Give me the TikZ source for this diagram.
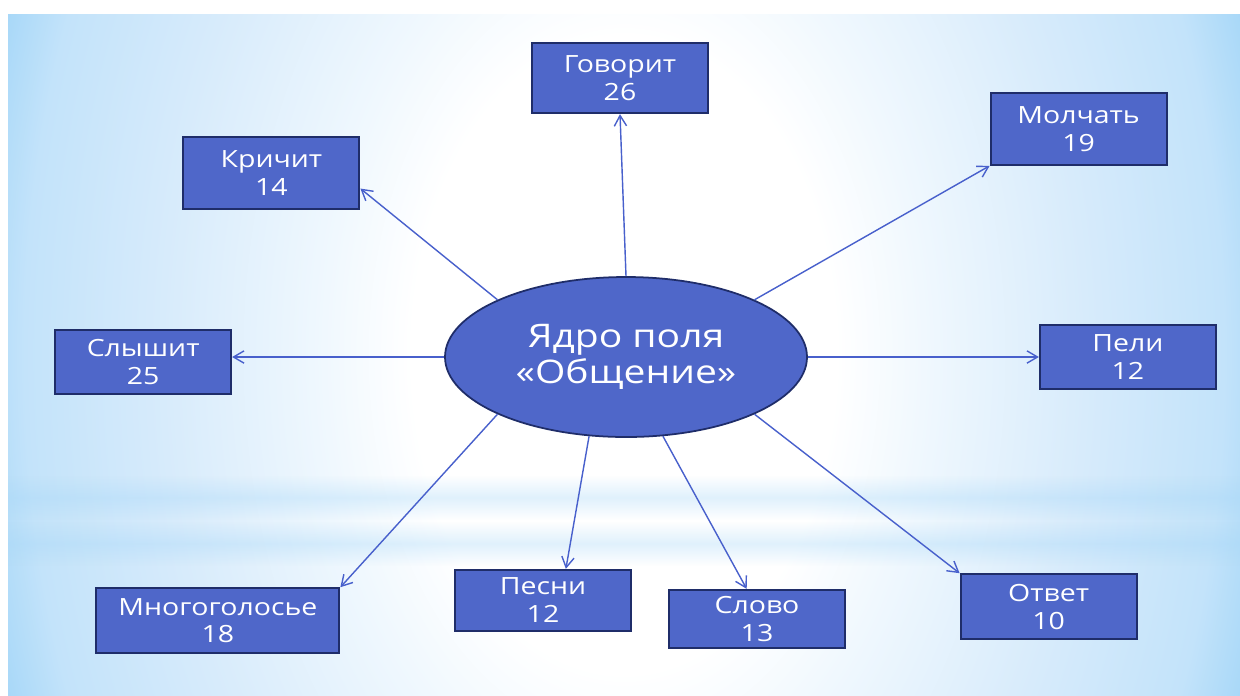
\documentclass[tikz,border=0pt]{standalone}
\usepackage{fontspec}
\setmainfont{Open Sans}[FakeStretch=1.2]
\usepackage{tikz}
\usetikzlibrary{shapes.geometric, arrows.meta, calc, positioning, fadings}
\definecolor{boxblue}{RGB}{79,103,201}
\definecolor{boxline}{RGB}{31,45,105}
\definecolor{linkblue}{RGB}{72,96,204}
\definecolor{skyblue}{RGB}{166,215,248}
\definecolor{skydeep}{RGB}{158,211,247}
\definecolor{skymid}{RGB}{195,227,250}
\definecolor{skysoft}{RGB}{215,235,251}
\definecolor{skypale}{RGB}{240,248,254}
\pgfdeclareradialshading{panelglow}{\pgfpoint{0bp}{0bp}}{color(0bp)=(white); color(120bp)=(white); color(170bp)=(skypale); color(262bp)=(skysoft); color(340bp)=(skymid); color(375bp)=(skyblue); color(420bp)=(skydeep)}
\tikzfading[name=softband, top color=transparent!100, bottom color=transparent!100, middle color=transparent!0]
\tikzstyle{core} = [ellipse, line width=1pt, draw=boxline, fill=boxblue, minimum width=7.24cm, minimum height=3.2cm, inner sep=0pt, text=white, align=center, font=\fontsize{18.5}{20.4}\selectfont]
\tikzstyle{block} = [rectangle, line width=1.1pt, draw=boxline, fill=boxblue, minimum width=3.52cm, inner sep=0pt, text=white, align=center, font=\fontsize{13.5}{15.9}\selectfont]
\tikzstyle{arrow} = [line width=0.8pt, draw=linkblue, ->, >={Straight Barb[length=6pt, width=7pt]}]

\begin{document}
\begin{tikzpicture}[node distance = 10mm, auto]
		\useasboundingbox (0,0) rectangle (24.8,-13.9);
		\fill [white] (0,0) rectangle (24.8,-13.9);
		\begin{scope}
			\clip (0.16,-0.28) rectangle (24.8,-13.9);
			\node (Glow) [inner sep=0pt] at (12.48,-7.09) {\scalebox{1}[1.5]{\pgfuseshading{panelglow}}};
			\fill [skyblue, opacity=0.35, path fading=softband] (0.16,-9.5) rectangle (24.8,-10.4);
			\fill [skyblue, opacity=0.35, path fading=softband] (0.16,-10.42) rectangle (24.8,-11.32);
		\end{scope}
		\node (Core) [core] at (12.52,-7.14) {Ядро поля\\«Общение»};
		\node (Govorit) [block, minimum height=1.4cm, above = 3.24cm of Core, xshift=-0.12cm] {Говорит\\26};
		\node (Krichit) [block, minimum height=1.44cm, above left = 1.8cm and 2.74cm of Core] {Кричит\\14};
		\node (Molchat) [block, minimum height=1.44cm, above right = 2.68cm and 4.7cm of Core] {Молчать\\19};
		\node (Slyshit) [block, minimum height=1.28cm, left = 4.24cm of Core, yshift=-0.1cm] {Слышит\\25};
		\node (Peli) [block, minimum height=1.28cm, right = 4.62cm of Core] {Пели\\12};
		\node (Mnogo) [block, minimum width=4.86cm, minimum height=1.3cm, below left = 3.46cm and 3.14cm of Core] {Многоголосье\\18};
		\node (Pesni) [block, minimum height=1.22cm, below = 2.62cm of Core, xshift=-1.66cm] {Песни\\12};
		\node (Slovo) [block, minimum height=1.16cm, below = 3.02cm of Core, xshift=2.62cm] {Слово\\13};
		\node (Otvet) [block, minimum height=1.3cm, below right = 3.18cm and 4.1cm of Core] {Ответ\\10};
		\draw [arrow] (Core.north) -- (Govorit.south);
		\draw [arrow] (Core.156) -- (Krichit.-10);
		\draw [arrow] (Core.24) -- (Molchat.south west);
		\draw [arrow] (Core.west) -- (Core.west -| Slyshit.east);
		\draw [arrow] (Core.east) -- (Core.east -| Peli.west);
		\draw [arrow] (Core.204) -- (Mnogo.north east);
		\draw [arrow] (Core.245) -- (Pesni.54);
		\draw [arrow] (Core.295) -- (Slovo.109);
		\draw [arrow] (Core.336) -- (Otvet.north west);
	\end{tikzpicture}
\end{document}
